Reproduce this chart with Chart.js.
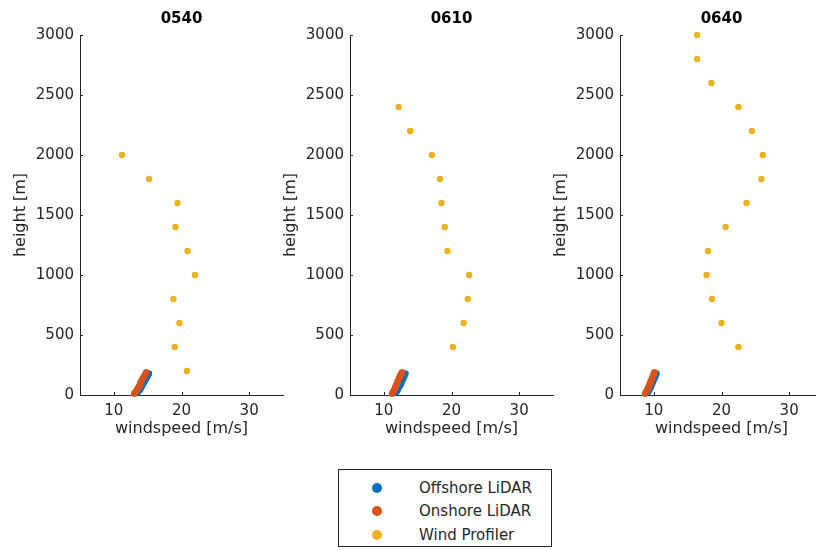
<!DOCTYPE html>
<html>
<head>
<meta charset="utf-8">
<script src="https://cdn.jsdelivr.net/npm/chart.js@4.4.1/dist/chart.umd.min.js"></script>
<style>
  body { margin: 0; width: 816px; height: 550px; overflow: hidden; background: #fff; position: relative; }
  .panel { position: absolute; top: 0; width: 290px; height: 450px; }
  #legend {
    position: absolute; left: 338px; top: 469px; width: 214px; height: 78px;
    border: 1px solid #262626; box-sizing: border-box; background: #fff;
    font-family: "DejaVu Sans", sans-serif; font-size: 15px; color: #262626;
  }
  #legend .row { position: absolute; left: 0; height: 20px; line-height: 20px; }
  #legend .dot { position: absolute; left: 33px; top: 5px; width: 10px; height: 10px; border-radius: 50%; }
  #legend .txt { position: absolute; left: 80px; white-space: nowrap; }
</style>
</head>
<body>
<div class="panel" style="left:0px"><canvas id="c0540" width="290" height="450"></canvas></div>
<div class="panel" style="left:270px"><canvas id="c0610" width="290" height="450"></canvas></div>
<div class="panel" style="left:540px"><canvas id="c0640" width="290" height="450"></canvas></div>
<div id="legend"></div>
<script>
// Windprofielen: drie tijdstippen, LiDAR (offshore/onshore) en wind profiler

const seriesNames = ['Offshore LiDAR', 'Onshore LiDAR', 'Wind Profiler'];
const seriesColors = ['#0072BD', '#D95319', '#EDB120'];

const yTicks = [0, 500, 1000, 1500, 2000, 2500, 3000];
const xTicks = [10, 20, 30];

// LiDAR hoogtes [m]
const onshoreHeights = [10, 20, 30, 40, 50, 60, 70, 80, 90, 100, 110, 120, 130, 140, 150, 160, 170, 180, 190];
const offshoreHeights = [20, 30, 40, 50, 60, 70, 80, 90, 100, 110, 120, 130, 140, 150, 160, 170, 180];

// 0540
const offshore0540 = [13.5, 13.6, 13.8, 13.9, 14.0, 14.1, 14.2, 14.3, 14.4, 14.5, 14.6, 14.7, 14.8, 14.9, 15.0, 15.1, 15.2];
const onshore0540 = [13.0, 13.1, 13.3, 13.4, 13.5, 13.6, 13.7, 13.8, 13.9, 13.9, 14.0, 14.1, 14.2, 14.3, 14.4, 14.5, 14.6, 14.7, 14.8];
const profilerHeights0540 = [200, 400, 600, 800, 1000, 1200, 1400, 1600, 1800, 2000];
const profiler0540 = [20.8, 19.0, 19.7, 18.8, 22.0, 20.9, 19.1, 19.4, 15.2, 11.2];

// 0610
const offshore0610 = [11.8, 11.9, 12.0, 12.1, 12.2, 12.3, 12.4, 12.5, 12.6, 12.6, 12.7, 12.8, 12.9, 13.0, 13.0, 13.1, 13.2];
const onshore0610 = [11.2, 11.3, 11.4, 11.5, 11.6, 11.7, 11.7, 11.8, 11.9, 12.0, 12.0, 12.1, 12.2, 12.3, 12.3, 12.4, 12.5, 12.6, 12.7];
const profilerHeights0610 = [400, 600, 800, 1000, 1200, 1400, 1600, 1800, 2000, 2200, 2400];
const profiler0610 = [20.2, 21.8, 22.4, 22.6, 19.4, 19.0, 18.5, 18.3, 17.1, 13.9, 12.2];

// 0640
const offshore0640 = [9.1, 9.2, 9.3, 9.4, 9.5, 9.6, 9.6, 9.7, 9.8, 9.9, 9.9, 10.0, 10.1, 10.2, 10.2, 10.3, 10.4];
const onshore0640 = [8.7, 8.8, 8.9, 9.0, 9.1, 9.2, 9.2, 9.3, 9.4, 9.5, 9.5, 9.6, 9.7, 9.8, 9.8, 9.9, 10.0, 10.0, 10.1];
const profilerHeights0640 = [400, 600, 800, 1000, 1200, 1400, 1600, 1800, 2000, 2200, 2400, 2600, 2800, 3000];
const profiler0640 = [22.5, 20.0, 18.6, 17.8, 18.0, 20.6, 23.7, 25.9, 26.1, 24.5, 22.5, 18.5, 16.4, 16.4];

const axisColor = '#262626';
const fontFamily = '"DejaVu Sans", sans-serif';

function toPoints(speeds, heights) {
    return speeds.map((v, i) => ({ x: v, y: heights[i] }));
}

// titel boven de assen + naar binnen gerichte tickjes (matlab-stijl)
const axesDecor = {
    id: 'axesDecor',
    afterDraw(chart, args, opts) {
        const { ctx, chartArea, scales } = chart;
        ctx.save();
        ctx.strokeStyle = axisColor;
        ctx.lineWidth = 1;
        ctx.beginPath();
        scales.x.ticks.forEach(t => {
            const px = Math.round(scales.x.getPixelForValue(t.value)) + 0.5;
            ctx.moveTo(px, chartArea.bottom);
            ctx.lineTo(px, chartArea.bottom - 3);
        });
        scales.y.ticks.forEach(t => {
            const py = Math.round(scales.y.getPixelForValue(t.value)) + 0.5;
            ctx.moveTo(chartArea.left, py);
            ctx.lineTo(chartArea.left + 3, py);
        });
        ctx.stroke();

        ctx.fillStyle = '#000';
        ctx.font = 'bold 15px ' + fontFamily;
        ctx.textAlign = 'center';
        ctx.textBaseline = 'middle';
        ctx.fillText(opts.text, (chartArea.left + chartArea.right) / 2, 19);
        ctx.restore();
    }
};

function makePanel(id, title, offshore, onshore, profiler, profilerHeights) {
    const sets = [
        toPoints(offshore, offshoreHeights),
        toPoints(onshore, onshoreHeights),
        toPoints(profiler, profilerHeights)
    ];
    const ctx = document.getElementById(id).getContext('2d');
    return new Chart(ctx, {
        type: 'scatter',
        data: {
            datasets: sets.map((pts, i) => ({
                label: seriesNames[i],
                data: pts,
                order: 3 - i, // onshore boven offshore tekenen
                backgroundColor: seriesColors[i],
                borderWidth: 0,
                pointRadius: 3.2,
                pointHoverRadius: 3.2
            }))
        },
        options: {
            responsive: false,
            animation: false,
            clip: false,
            layout: { padding: { top: 35, right: 7, left: 0, bottom: 0 } },
            plugins: {
                legend: { display: false },
                tooltip: { enabled: false },
                axesDecor: { text: title }
            },
            scales: {
                x: {
                    type: 'linear',
                    min: 5,
                    max: 35,
                    afterBuildTicks: s => { s.ticks = xTicks.map(v => ({ value: v })); },
                    afterFit: s => { s.height = 55; },
                    grid: { display: true, drawOnChartArea: false, drawTicks: false },
                    border: { display: true, color: axisColor, width: 1 },
                    ticks: {
                        color: axisColor, padding: 7,
                        font: { family: fontFamily, size: 15 },
                        callback: v => String(v)
                    },
                    title: {
                        display: true, text: 'windspeed [m/s]', color: axisColor,
                        padding: { top: 0, bottom: 12 },
                        font: { family: fontFamily, size: 16 }
                    }
                },
                y: {
                    type: 'linear',
                    min: 0,
                    max: 3000,
                    afterBuildTicks: s => { s.ticks = yTicks.map(v => ({ value: v })); },
                    afterFit: s => { s.width = 80; },
                    grid: { display: true, drawOnChartArea: false, drawTicks: false },
                    border: { display: true, color: axisColor, width: 1 },
                    ticks: {
                        color: axisColor, padding: 6,
                        font: { family: fontFamily, size: 15 },
                        callback: v => String(v)
                    },
                    title: {
                        display: true, text: 'height [m]', color: axisColor,
                        padding: { top: 11, bottom: 0 },
                        font: { family: fontFamily, size: 16 }
                    }
                }
            }
        },
        plugins: [axesDecor]
    });
}

makePanel('c0540', '0540', offshore0540, onshore0540, profiler0540, profilerHeights0540);
makePanel('c0610', '0610', offshore0610, onshore0610, profiler0610, profilerHeights0610);
makePanel('c0640', '0640', offshore0640, onshore0640, profiler0640, profilerHeights0640);

// legenda onder de figuren
const legend = document.getElementById('legend');
const rowTops = [8, 31, 55];
seriesNames.forEach((name, i) => {
    const row = document.createElement('div');
    row.className = 'row';
    row.style.top = rowTops[i] + 'px';
    row.innerHTML = '<span class="dot" style="background:' + seriesColors[i] + '"></span>' +
        '<span class="txt">' + name + '</span>';
    legend.appendChild(row);
});
</script>
</body>
</html>
